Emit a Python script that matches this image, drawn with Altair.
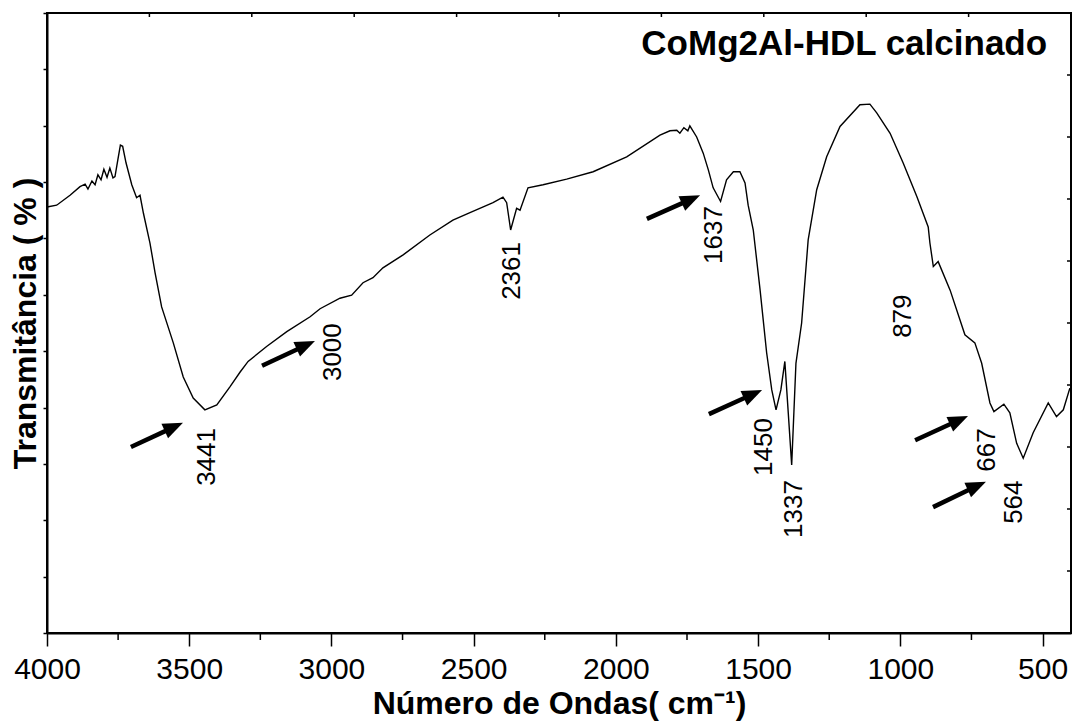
import altair as alt
import pandas as pd

# ---- spectrum ----
wavenumber = [4000, 3966, 3919, 3884, 3866, 3856, 3842, 3831, 3821, 3810, 3800, 3789, 3779, 3768, 3761,
              3751, 3742, 3734, 3722, 3702, 3685, 3673, 3661, 3638, 3620, 3597, 3556, 3521, 3486, 3445,
              3403, 3357, 3321, 3293, 3228, 3157, 3075, 3040, 2970, 2929, 2889, 2854, 2819, 2748, 2654,
              2573, 2513, 2432, 2397, 2384, 2370, 2349, 2337, 2309, 2256, 2173, 2080, 1962, 1845, 1810,
              1786, 1775, 1761, 1747, 1740, 1716, 1693, 1675, 1658, 1632, 1611, 1587, 1564, 1546, 1535,
              1517, 1493, 1470, 1452, 1437, 1420, 1406, 1394, 1382, 1367, 1347, 1324, 1294, 1259, 1212,
              1142, 1107, 1083, 1036, 990, 942, 902, 896, 884, 867, 825, 773, 738, 714, 685,
              671, 636, 615, 591, 568, 533, 480, 451, 427, 404]
transmittance = [68.7, 69.0, 70.6, 72.0, 72.4, 71.6, 72.9, 72.3, 73.9, 73.1, 74.8, 73.5, 75.0, 73.4, 73.6,
                 76.3, 78.7, 78.5, 75.8, 72.3, 70.2, 70.6, 67.7, 62.9, 58.1, 52.6, 46.8, 41.3, 37.9, 36.0,
                 36.8, 39.7, 42.1, 43.8, 46.2, 48.6, 51.0, 52.3, 54.0, 54.5, 56.5, 57.3, 58.9, 61.0, 64.2,
                 66.6, 67.8, 69.4, 70.3, 69.4, 65.0, 68.5, 68.2, 71.8, 72.3, 73.2, 74.4, 76.8, 80.3, 81.0,
                 81.1, 80.6, 81.5, 81.0, 81.8, 80.0, 77.4, 74.7, 71.8, 69.6, 73.1, 74.4, 74.4, 72.6, 69.0,
                 65.0, 55.3, 45.2, 39.2, 36.0, 39.2, 43.8, 35.5, 27.1, 43.5, 50.0, 63.4, 71.5, 76.8, 81.7,
                 85.2, 85.3, 83.9, 80.6, 75.8, 70.4, 65.5, 62.9, 59.1, 59.9, 55.3, 48.1, 46.8, 43.5, 37.1,
                 35.7, 36.9, 35.5, 30.6, 28.2, 32.3, 37.1, 34.9, 36.0, 39.5]

# ---- peak labels ----
peak_labels = ["3441", "3000", "2361", "1637", "1450", "1337", "879", "667", "564"]
label_wn = [3437, 2994, 2365, 1655, 1479, 1374, 991, 695, 600]
label_t = [28.4, 45.3, 58.4, 64.2, 30.0, 20.0, 51.1, 29.5, 21.1]

# ---- arrows ----
arrow_tail_wn = [3705, 3244, 1891, 1673, 948, 885]
arrow_tail_t = [30.0, 43.1, 66.8, 35.3, 31.1, 20.3]
arrow_tip_wn = [3522, 3058, 1704, 1486, 762, 699]
arrow_tip_t = [33.9, 47.1, 70.6, 39.2, 35.0, 24.4]

# ---- inner title ----
sample_title = ["CoMg2Al-HDL calcinado"]
title_wn = [484]
title_t = [93.2]

# ---- axis ticks ----
major_ticks = [4000, 3500, 3000, 2500, 2000, 1500, 1000, 500]
minor_ticks = [3750, 3250, 2750, 2250, 1750, 1250, 750]
top_ticks = [3640, 3280, 2920, 2560, 2200, 1840, 1480, 1120, 760]
left_ticks = [0, 9.0909, 18.1818, 27.2727, 36.3636, 45.4545, 54.5454, 63.6363, 72.7272, 81.8181, 90.9090, 100]
right_ticks = [0, 10, 20, 30, 40, 50, 60, 70, 80, 90, 100]

W, H = 1024, 620
FONT = "Liberation Sans"

xscale = alt.Scale(domain=[400, 4000], reverse=True, nice=False, zero=False)
yscale = alt.Scale(domain=[0, 100], nice=False, zero=False)

spec_df = pd.DataFrame({"wn": wavenumber, "t": transmittance})
lab_df = pd.DataFrame({"wn": label_wn, "t": label_t, "label": peak_labels})
arr_df = pd.DataFrame({"wn0": arrow_tail_wn, "t0": arrow_tail_t, "wn1": arrow_tip_wn, "t1": arrow_tip_t})
ttl_df = pd.DataFrame({"wn": title_wn, "t": title_t, "label": sample_title})

line = alt.Chart(spec_df).mark_line(color="black", strokeWidth=1.4).encode(
    x=alt.X("wn:Q", scale=xscale,
            axis=alt.Axis(values=major_ticks, format="d", title="Número de Ondas( cm⁻¹)",
                          titleFont=FONT, titleFontSize=32, titleFontWeight="bold", titleColor="black",
                          titleBaseline="alphabetic", titleY=80,
                          labelFont=FONT, labelFontSize=30, labelColor="black", labelPadding=8,
                          labelFlush=False, tickSize=13, tickWidth=1.5, tickColor="black",
                          domainColor="black", domainWidth=2, grid=False)),
    y=alt.Y("t:Q", scale=yscale,
            axis=alt.Axis(values=left_ticks, labels=False, title="Transmitância ( % )",
                          titleFont=FONT, titleFontSize=32, titleFontWeight="bold", titleColor="black",
                          titleBaseline="alphabetic", titleAngle=270, titleX=-12, titleY=H / 2,
                          tickSize=4, tickWidth=1.5, tickColor="black",
                          domainColor="black", domainWidth=2, grid=False)),
)

minor = alt.Chart(pd.DataFrame({"wn": minor_ticks})).mark_rule(color="black", strokeWidth=1.5).encode(
    x=alt.X("wn:Q", scale=xscale), y=alt.value(H), y2=alt.value(H + 7))

top = alt.Chart(pd.DataFrame({"wn": top_ticks})).mark_rule(color="black", strokeWidth=1.5).encode(
    x=alt.X("wn:Q", scale=xscale), y=alt.value(0), y2=alt.value(4))

right = alt.Chart(pd.DataFrame({"t": right_ticks})).mark_rule(color="black", strokeWidth=1.5).encode(
    y=alt.Y("t:Q", scale=yscale), x=alt.value(W), x2=alt.value(W - 4))

shaft = alt.Chart(arr_df).transform_calculate(
    wne="datum.wn0 + 0.72*(datum.wn1 - datum.wn0)",
    te="datum.t0 + 0.72*(datum.t1 - datum.t0)",
).mark_rule(color="black", strokeWidth=4.5, strokeCap="butt").encode(
    x=alt.X("wn0:Q", scale=xscale), y=alt.Y("t0:Q", scale=yscale),
    x2="wne:Q", y2="te:Q")

head = alt.Chart(arr_df).mark_point(
    shape="M0,0 L-1,-0.4 L-1,0.4 Z", filled=True, color="black", opacity=1,
    size=1600, angle=335.6, strokeWidth=0).encode(
    x=alt.X("wn1:Q", scale=xscale), y=alt.Y("t1:Q", scale=yscale))

labels = alt.Chart(lab_df).mark_text(
    angle=270, font=FONT, fontSize=26, color="black", align="center", baseline="middle").encode(
    x=alt.X("wn:Q", scale=xscale), y=alt.Y("t:Q", scale=yscale), text="label:N")

title = alt.Chart(ttl_df).mark_text(
    font=FONT, fontSize=35, fontWeight="bold", color="black", align="right", baseline="alphabetic").encode(
    x=alt.X("wn:Q", scale=xscale), y=alt.Y("t:Q", scale=yscale), text="label:N")

chart = alt.layer(line, minor, top, right, shaft, head, labels, title).properties(
    width=W, height=H,
    padding={"left": 47, "top": 13, "right": 1, "bottom": 93},
    autosize=alt.AutoSizeParams(type="none"),
    background="white",
).configure_view(stroke="black", strokeWidth=2)

chart.save("out.html", embed_options={"renderer": "svg", "actions": False})
